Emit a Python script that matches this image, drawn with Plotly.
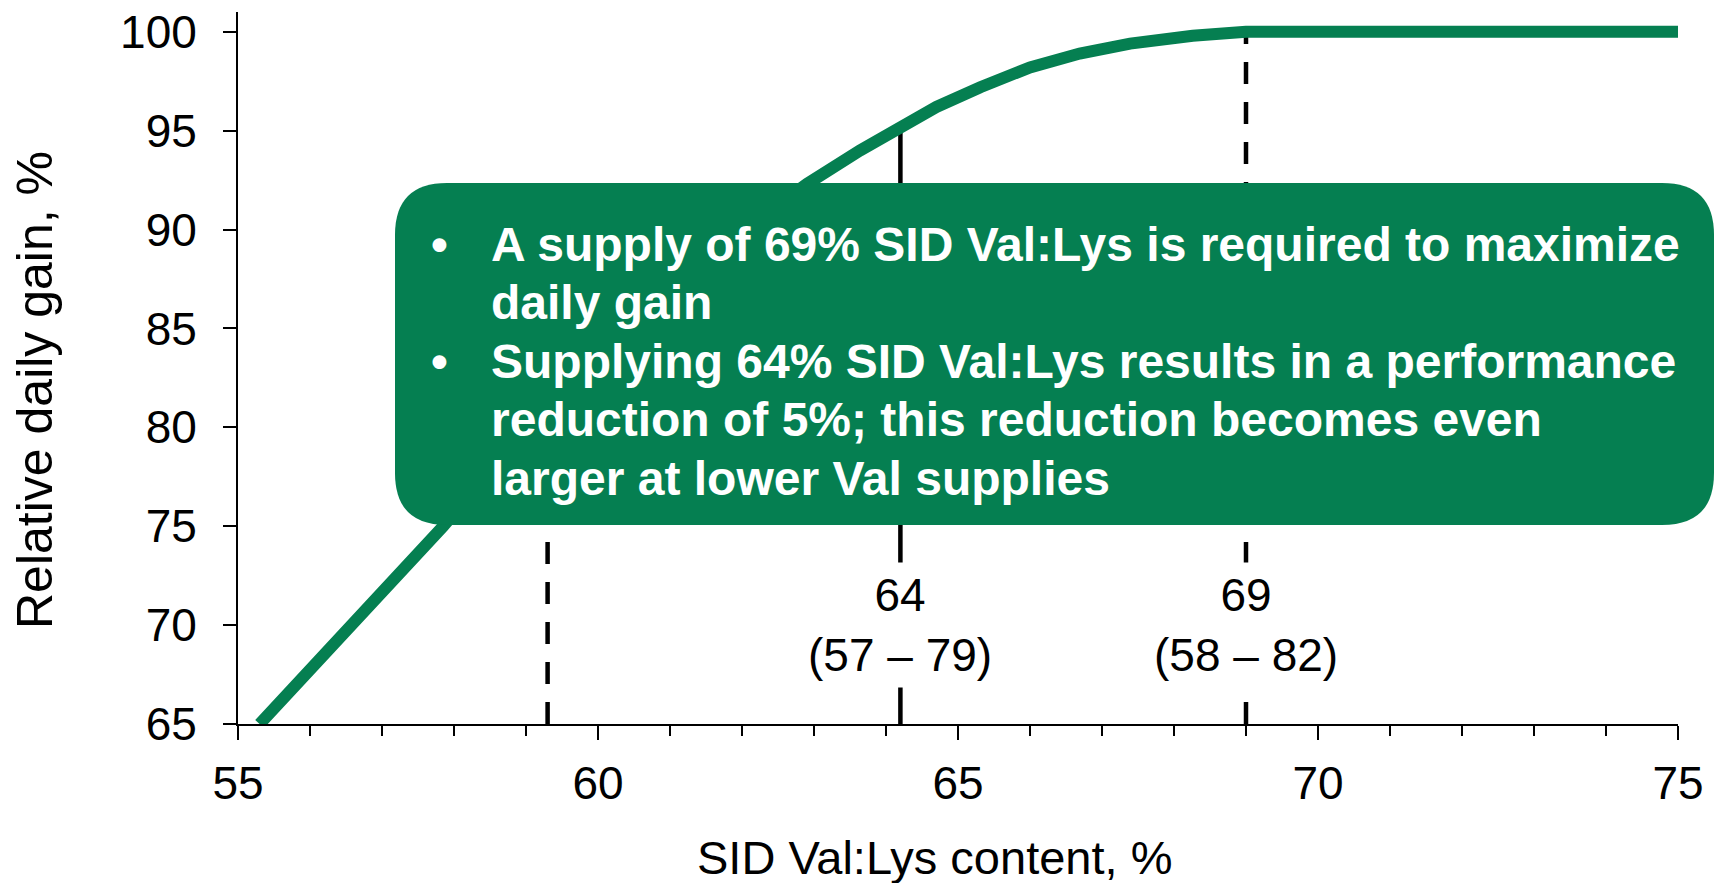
import plotly.graph_objects as go

# ---- data ----
val_lys = [55.3, 56.5, 57.85, 59.0, 60.0, 61.0, 62.0, 62.9, 63.64, 64.19, 64.7,
           65.31, 66.0, 66.69, 67.39, 68.26, 68.6, 69.0, 75.0]
rel_gain = [65.0, 69.7, 75.0, 79.9, 83.5, 86.9, 89.9, 92.3, 94.0, 95.1, 96.2,
            97.2, 98.2, 98.9, 99.4, 99.8, 99.93, 100.0, 100.0]

ref_x = [59.3, 64.2, 69.0]
ref_top = [81.0, 95.1, 100.0]
ref_dash = ["22px,18px", "solid", "22px,18px"]
ref_labels = {64.2: "64<br>(57 – 79)", 69.0: "69<br>(58 – 82)"}

x_ticks = [55, 60, 65, 70, 75]
y_ticks = [65, 70, 75, 80, 85, 90, 95, 100]

box_lines = [
    "A supply of 69% SID Val:Lys is required to maximize",
    "daily gain",
    "Supplying 64% SID Val:Lys results in a performance",
    "reduction of 5%; this reduction becomes even",
    "larger at lower Val supplies",
]
bullet_lines = [0, 2]

GREEN = "#057F51"
FONT = "Liberation Sans, Arial, sans-serif"

# ---- geometry in window pixels (page body margin removed below) ----
W, H = 1721, 883
PLOT_L, PLOT_R, PLOT_T, PLOT_B = 238, 1678, 12, 724
L, T, R, B = PLOT_L, PLOT_T, W - PLOT_R, H - PLOT_B
PW, PH = PLOT_R - PLOT_L, PLOT_B - PLOT_T


def px_x(p):
    return (p - PLOT_L) / PW


def px_y(p):
    return (PLOT_B - p) / PH


fig = go.Figure()

for xv, top, dash in zip(ref_x, ref_top, ref_dash):
    fig.add_trace(go.Scatter(
        x=[xv, xv], y=[y_ticks[0], top], mode="lines",
        line=dict(color="black", width=4.5, dash=dash),
        hoverinfo="skip", showlegend=False))

fig.add_trace(go.Scatter(
    x=val_lys, y=rel_gain, mode="lines",
    line=dict(color=GREEN, width=12),
    showlegend=False))

# rounded call-out box
x0, x1 = px_x(395), px_x(1714)
y0, y1 = px_y(525), px_y(183)
rx, ry = 52 / PW, 52 / PH
path = (f"M {x0+rx},{y1} L {x1-rx},{y1} Q {x1},{y1} {x1},{y1-ry} "
        f"L {x1},{y0+ry} Q {x1},{y0} {x1-rx},{y0} L {x0+rx},{y0} "
        f"Q {x0},{y0} {x0},{y0+ry} L {x0},{y1-ry} Q {x0},{y1} {x0+rx},{y1} Z")
fig.add_shape(type="path", path=path, xref="paper", yref="paper",
              fillcolor=GREEN, line=dict(width=0), layer="above")

line_y0, line_step = 244, 58.5
for i, txt in enumerate(box_lines):
    yy = px_y(line_y0 + i * line_step)
    fig.add_annotation(x=px_x(489), y=yy, xref="paper", yref="paper",
                       text=txt, showarrow=False, xanchor="left", yanchor="middle",
                       font=dict(family=FONT, size=48, color="white", weight="bold"))
    if i in bullet_lines:
        fig.add_annotation(x=px_x(439), y=yy, xref="paper", yref="paper",
                           text="•", showarrow=False, xanchor="center", yanchor="middle",
                           font=dict(family=FONT, size=48, color="white", weight="bold"))

for xv, lab in ref_labels.items():
    fig.add_annotation(x=xv, y=70.0, xref="x", yref="y", text=lab, showarrow=False,
                       bgcolor="white", borderpad=6,
                       font=dict(family=FONT, size=46, color="black"))

# axis titles
fig.add_annotation(x=px_x(35), y=px_y(390), xref="paper", yref="paper",
                   text="Relative daily gain, %", textangle=-90, showarrow=False,
                   xanchor="center", yanchor="middle", borderpad=0,
                   font=dict(family=FONT, size=50, color="black"))
fig.add_annotation(x=px_x(934), y=px_y(857), xref="paper", yref="paper",
                   text="SID Val:Lys content, %", showarrow=False,
                   xanchor="center", yanchor="middle", borderpad=0,
                   font=dict(family=FONT, size=47, color="black"))

fig.update_layout(
    width=W, height=H,
    margin=dict(l=L, r=R, t=T, b=B, pad=0, autoexpand=False),
    plot_bgcolor="white", paper_bgcolor="white",
    font=dict(family=FONT, size=46, color="black"),
    xaxis=dict(range=[55, 75], tickvals=x_ticks, ticks="outside", ticklen=14,
               tickwidth=2, tickcolor="black", showline=True, linecolor="black",
               linewidth=2, showgrid=False, zeroline=False, ticklabelstandoff=4,
               tickfont=dict(size=46), ticklabeloverflow="allow", automargin=False,
               minor=dict(dtick=1, ticks="outside", ticklen=10, tickwidth=1.5,
                          tickcolor="black", showgrid=False)),
    yaxis=dict(range=[65, 101], tickvals=y_ticks, ticks="outside", ticklen=13,
               tickwidth=2, tickcolor="black", showline=True, linecolor="black",
               linewidth=2, showgrid=False, zeroline=False, ticklabelstandoff=17,
               tickfont=dict(size=46), ticklabeloverflow="allow", automargin=False),
)

fig.write_html("out.html",
               config={"displayModeBar": False},
               post_script="document.body.style.margin='0';"
                           "document.body.style.overflow='hidden';")
